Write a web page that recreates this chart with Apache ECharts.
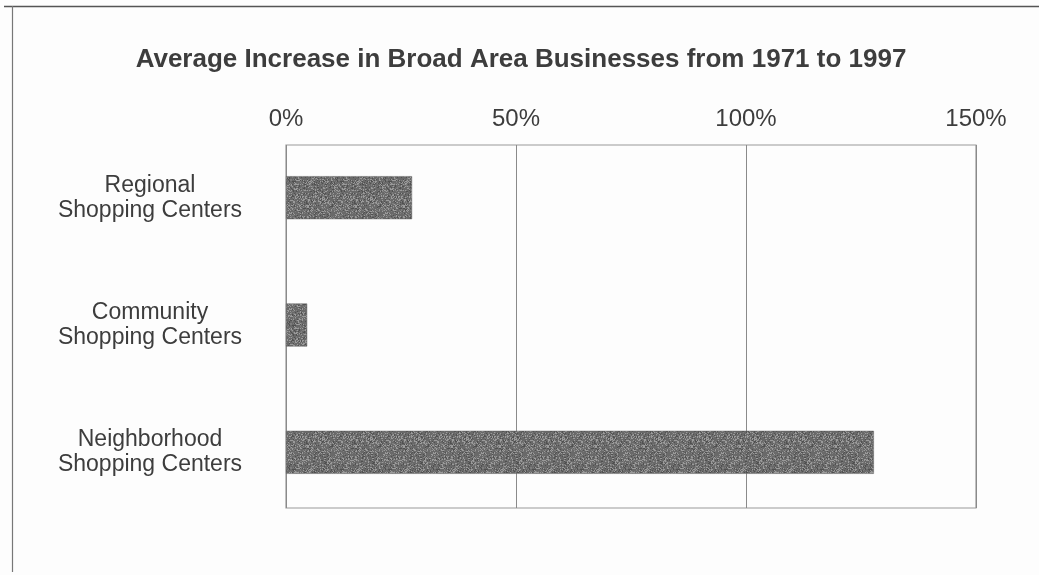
<!DOCTYPE html>
<html>
<head>
<meta charset="utf-8">
<script src="https://cdn.jsdelivr.net/npm/echarts@6/dist/echarts.min.js"></script>
<style>
  html, body { margin: 0; padding: 0; background: #fdfdfd; }
  #chart { width: 1039px; height: 575px; }
</style>
</head>
<body>
<div id="chart"></div>
<script>
// Shopping center types, top to bottom
const categories = [
  'Regional\nShopping Centers',
  'Community\nShopping Centers',
  'Neighborhood\nShopping Centers'
];
// Average increase in broad area businesses, percent
const increasePct = [27.4, 4.6, 127.8];
// Axis ticks
const tickValues = [0, 50, 100, 150];

const FONT = 'Liberation Sans, Arial, sans-serif';
const TEXT = '#3d3d3d';

// Speckled grey fill for the bars (deterministic pseudo-noise)
function speckleTexture() {
  const size = 48;
  const c = document.createElement('canvas');
  c.width = size; c.height = size;
  const ctx = c.getContext('2d');
  const img = ctx.createImageData(size, size);
  let s = 12345;
  for (let i = 0; i < size * size; i++) {
    s = (s * 1103515245 + 12345) & 0x7fffffff;
    const r = (s >> 8) % 100;
    let v = 105;
    if (r < 18) v = 155; else if (r < 30) v = 80; else if (r < 45) v = 125;
    img.data[i * 4] = v; img.data[i * 4 + 1] = v; img.data[i * 4 + 2] = v; img.data[i * 4 + 3] = 255;
  }
  ctx.putImageData(img, 0, 0);
  return c;
}

const xMin = tickValues[0];
const xMax = tickValues[tickValues.length - 1];

const chart = echarts.init(document.getElementById('chart'), null, { renderer: 'canvas' });
chart.setOption({
  backgroundColor: '#fdfdfd',
  animation: false,
  title: {
    text: 'Average Increase in Broad Area Businesses from 1971 to 1997',
    left: 516, top: 42, textAlign: 'center',
    textStyle: { fontFamily: FONT, fontSize: 26, fontWeight: 'bold', color: TEXT }
  },
  graphic: [
    { type: 'line', shape: { x1: 4, y1: 6.5, x2: 1039, y2: 6.5 }, style: { stroke: '#555', lineWidth: 1.5 } },
    { type: 'line', shape: { x1: 12.5, y1: 6, x2: 12.5, y2: 572 }, style: { stroke: '#777', lineWidth: 1.2 } }
  ],
  grid: [
    // framed plot area with the percentage scale
    { left: 286, right: 63, top: 145, bottom: 67,
      show: true, borderColor: '#9a9a9a', borderWidth: 1.2, backgroundColor: 'transparent' },
    // category bands for the bars and their labels
    { left: 286, right: 63, top: 134, bottom: 59 }
  ],
  xAxis: [
    { gridIndex: 0, type: 'value', position: 'top',
      min: xMin, max: xMax, interval: 50,
      axisLine: { show: false }, axisTick: { show: false },
      splitLine: { show: true, lineStyle: { color: '#8a8a8a', width: 1 } },
      axisLabel: { margin: 14, formatter: v => v + '%', fontFamily: FONT, fontSize: 24, color: TEXT } },
    { gridIndex: 1, type: 'value', min: xMin, max: xMax, interval: 50, show: false }
  ],
  yAxis: [
    { gridIndex: 0, type: 'value', show: false },
    { gridIndex: 1, type: 'category', inverse: true, data: categories,
      axisLine: { show: false }, axisTick: { show: false },
      axisLabel: { margin: 136, align: 'center', padding: [6, 0, 0, 0],
        fontFamily: FONT, fontSize: 23, lineHeight: 25, color: TEXT } }
  ],
  series: [{
    type: 'bar',
    xAxisIndex: 1, yAxisIndex: 1,
    data: increasePct,
    barWidth: 43,
    itemStyle: {
      color: { image: speckleTexture(), repeat: 'repeat' },
      borderColor: '#626262', borderWidth: 0.5
    }
  }]
});
</script>
</body>
</html>
